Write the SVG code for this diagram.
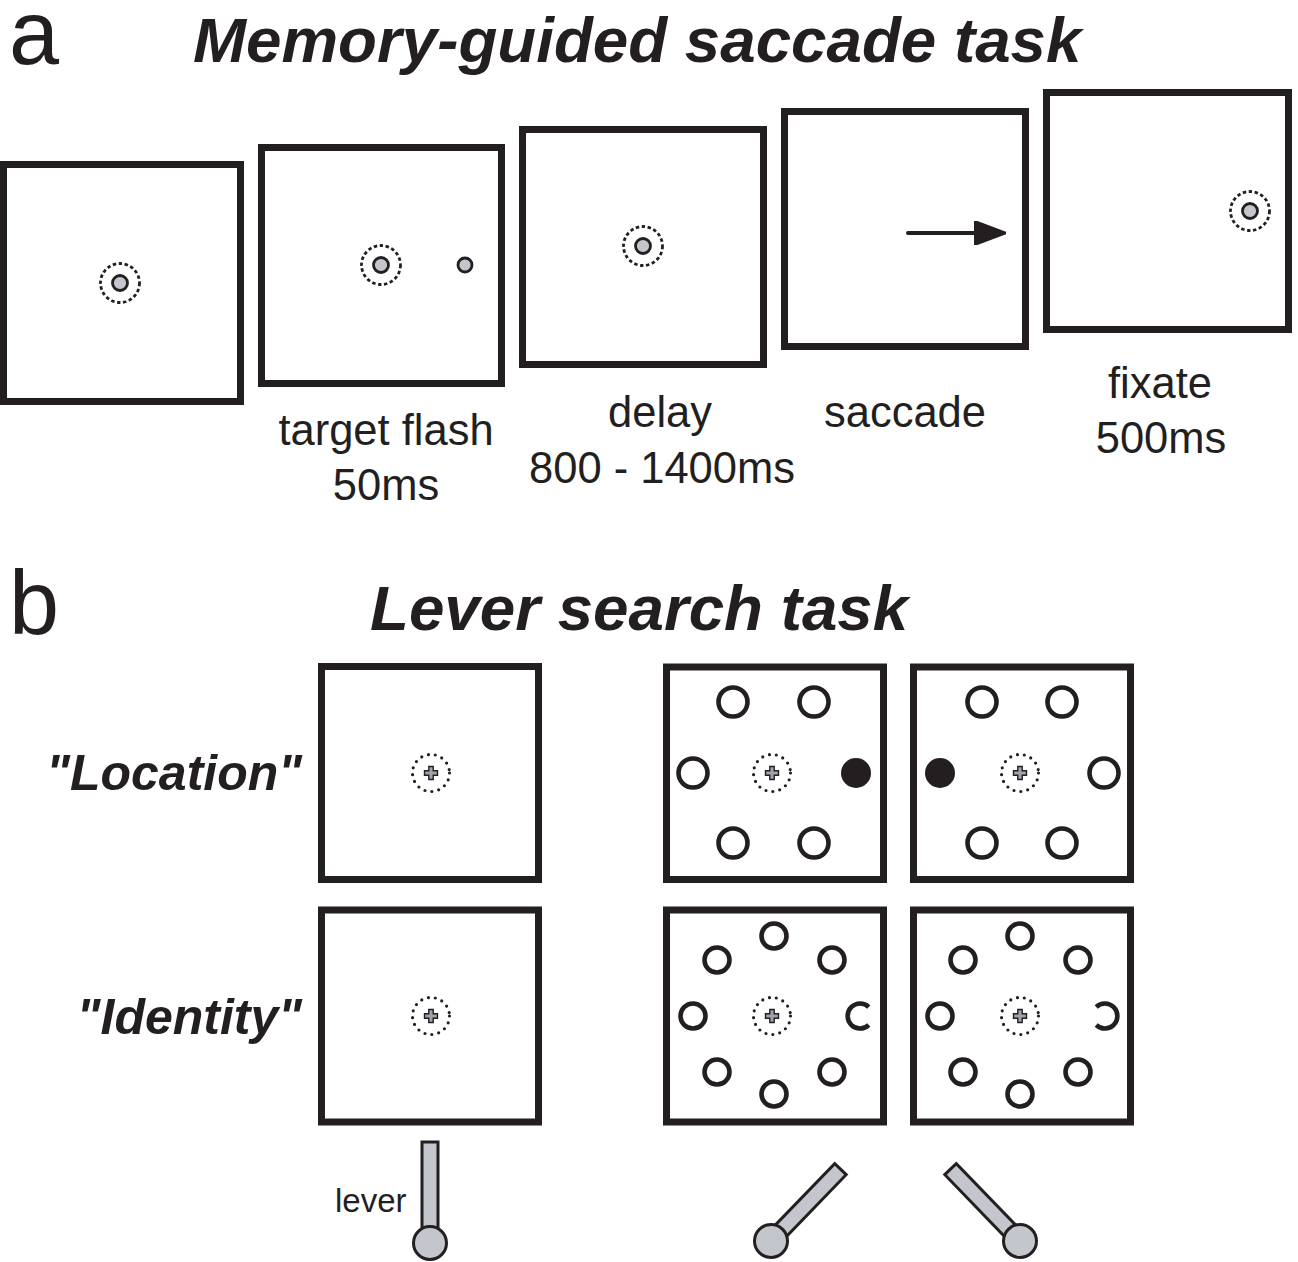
<svg xmlns="http://www.w3.org/2000/svg" width="1298" height="1262" viewBox="0 0 1298 1262">
  <style>
    .frame { fill: #ffffff; stroke: #231f20; stroke-width: 7; }
    .fixring { fill: none; stroke: #231f20; stroke-width: 2.8; stroke-dasharray: 3.4 2.6; }
    .dotring { fill: none; stroke: #231f20; stroke-width: 3.2; stroke-linecap: round; stroke-dasharray: 0 7; }
    .spot { fill: #c3c7cd; stroke: #231f20; stroke-width: 2.8; }
    .ring { fill: none; stroke: #231f20; stroke-width: 4.6; }
    .filled { fill: #231f20; }
    .cross { fill: #9ea4ac; stroke: #231f20; stroke-width: 1.4; }
    .lever { fill: #c3c7cd; stroke: #231f20; stroke-width: 3; }
    .letter { font-family: "Liberation Sans", Arial, sans-serif; font-size: 90px; fill: #231f20; }
    .title { font-family: "Liberation Sans", Arial, sans-serif; font-size: 63.7px; font-weight: bold; font-style: italic; fill: #231f20; }
    .rowlabel { font-family: "Liberation Sans", Arial, sans-serif; font-size: 50px; font-weight: bold; font-style: italic; fill: #231f20; text-anchor: end; }
    .caption { font-family: "Liberation Sans", Arial, sans-serif; font-size: 43.5px; fill: #231f20; text-anchor: middle; }
    .small { font-family: "Liberation Sans", Arial, sans-serif; font-size: 33px; fill: #231f20; }
  </style>
  <defs>
    <!-- fixation target: dashed window with grey spot -->
    <g id="fixspot">
      <circle class="fixring" r="19.5"/>
      <circle class="spot" r="7.5"/>
    </g>
    <!-- central cross with dotted window -->
    <g id="fixcross">
      <circle class="dotring" r="18.5"/>
      <path class="cross" d="M-2.2,-6.5 H2.2 V-2.2 H6.5 V2.2 H2.2 V6.5 H-2.2 V2.2 H-6.5 V-2.2 H-2.2 Z"/>
    </g>
    <marker id="arrowhead" markerWidth="8" markerHeight="6" refX="1" refY="3" orient="auto" markerUnits="strokeWidth">
      <path d="M0,0 L8,3 L0,6 Z" fill="#231f20" stroke="#231f20" stroke-width="0.6" stroke-linejoin="round"/>
    </marker>
  </defs>

  <rect width="1298" height="1262" fill="#ffffff"/>

  <!-- panel a -->
  <text class="letter" x="9" y="64">a</text>
  <text class="title" x="193" y="62">Memory-guided saccade task</text>

  <g id="mgs-fixation">
    <rect class="frame" x="3.5" y="164.5" width="237" height="237"/>
    <use href="#fixspot" x="120" y="283"/>
  </g>
  <g id="mgs-target">
    <rect class="frame" x="261.5" y="147.5" width="240" height="236"/>
    <use href="#fixspot" x="381" y="265"/>
    <circle class="spot" cx="465" cy="265" r="7"/>
    <text class="caption" x="386" y="445">target flash</text>
    <text class="caption" x="386" y="500">50ms</text>
  </g>
  <g id="mgs-delay">
    <rect class="frame" x="522.5" y="129.5" width="241" height="235"/>
    <use href="#fixspot" x="643" y="246"/>
    <text class="caption" x="660" y="427">delay</text>
    <text class="caption" x="662" y="483">800 - 1400ms</text>
  </g>
  <g id="mgs-saccade">
    <rect class="frame" x="784.5" y="111.5" width="241" height="235"/>
    <text class="caption" x="905" y="427">saccade</text>
  </g>
  <g id="mgs-fixate">
    <rect class="frame" x="1046.5" y="92.5" width="242" height="237"/>
    <use href="#fixspot" x="1250" y="211"/>
    <text class="caption" x="1160" y="398">fixate</text>
    <text class="caption" x="1161" y="453">500ms</text>
  </g>

  <g id="connectors">
    <line x1="908" y1="233" x2="978" y2="233" stroke="#231f20" stroke-width="4" stroke-linecap="round" marker-end="url(#arrowhead)"/>
  </g>

  <!-- panel b -->
  <text class="letter" x="9" y="634">b</text>
  <text class="title" x="370" y="630">Lever search task</text>
  <text class="rowlabel" x="302" y="790">"Location"</text>
  <text class="rowlabel" x="302" y="1034">"Identity"</text>

  <g id="loc-fixation">
    <rect class="frame" x="321.5" y="666.5" width="217" height="213"/>
    <use href="#fixcross" x="431" y="773"/>
  </g>
  <g id="loc-search-right">
    <rect class="frame" x="666.5" y="667" width="217" height="212.5"/>
    <use href="#fixcross" x="772" y="773"/>
    <circle class="ring" cx="733" cy="702" r="14.5"/>
    <circle class="ring" cx="814" cy="702" r="14.5"/>
    <circle class="ring" cx="693" cy="773" r="14.5"/>
    <circle class="filled" cx="856" cy="773" r="15"/>
    <circle class="ring" cx="733" cy="843" r="14.5"/>
    <circle class="ring" cx="814" cy="843" r="14.5"/>
  </g>
  <g id="loc-search-left">
    <rect class="frame" x="913.5" y="667" width="217" height="212.5"/>
    <use href="#fixcross" x="1020" y="773"/>
    <circle class="ring" cx="982" cy="702" r="14.5"/>
    <circle class="ring" cx="1062" cy="702" r="14.5"/>
    <circle class="filled" cx="940" cy="773" r="15"/>
    <circle class="ring" cx="1104" cy="773" r="14.5"/>
    <circle class="ring" cx="982" cy="843" r="14.5"/>
    <circle class="ring" cx="1062" cy="843" r="14.5"/>
  </g>

  <g id="id-fixation">
    <rect class="frame" x="321.5" y="910" width="217" height="212"/>
    <use href="#fixcross" x="431" y="1016"/>
  </g>
  <g id="id-search-right">
    <rect class="frame" x="666.5" y="910" width="217" height="212"/>
    <use href="#fixcross" x="772" y="1016"/>
    <circle class="ring" cx="774" cy="936" r="12.5"/>
    <circle class="ring" cx="717" cy="960" r="12.5"/>
    <circle class="ring" cx="832" cy="960" r="12.5"/>
    <circle class="ring" cx="693" cy="1016" r="12.5"/>
    <path class="ring" d="M868.8,1007 A12.5,12.5 0 1 0 868.8,1025"/>
    <circle class="ring" cx="717" cy="1072" r="12.5"/>
    <circle class="ring" cx="832" cy="1072" r="12.5"/>
    <circle class="ring" cx="774" cy="1094" r="12.5"/>
  </g>
  <g id="id-search-left">
    <rect class="frame" x="913.5" y="910" width="217" height="212"/>
    <use href="#fixcross" x="1020" y="1016"/>
    <circle class="ring" cx="1020" cy="936" r="12.5"/>
    <circle class="ring" cx="963" cy="960" r="12.5"/>
    <circle class="ring" cx="1078" cy="960" r="12.5"/>
    <circle class="ring" cx="940" cy="1016" r="12.5"/>
    <path class="ring" d="M1096.2,1007 A12.5,12.5 0 1 1 1096.2,1025"/>
    <circle class="ring" cx="963" cy="1072" r="12.5"/>
    <circle class="ring" cx="1078" cy="1072" r="12.5"/>
    <circle class="ring" cx="1020" cy="1094" r="12.5"/>
  </g>

  <!-- lever positions -->
  <g id="lever-center">
    <rect class="lever" x="422" y="1142" width="16" height="90"/>
    <circle class="lever" cx="430" cy="1243" r="16.5"/>
    <text class="small" x="335" y="1212">lever</text>
  </g>
  <g id="lever-left">
    <rect class="lever" x="-8" y="-100" width="16" height="90" transform="translate(771,1241) rotate(44)"/>
    <circle class="lever" cx="771" cy="1241" r="16.5"/>
  </g>
  <g id="lever-right">
    <rect class="lever" x="-8" y="-100" width="16" height="90" transform="translate(1020,1241) rotate(-44)"/>
    <circle class="lever" cx="1020" cy="1241" r="16.5"/>
  </g>
</svg>
